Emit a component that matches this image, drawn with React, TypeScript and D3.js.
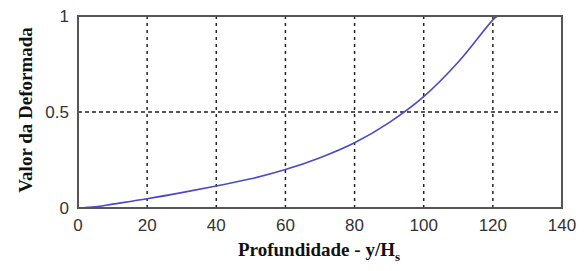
import React, { useEffect, useRef } from "react";
import * as d3 from "d3";

// depth (y/Hs) and normalised deflection
const depth = [0, 5, 10, 20, 30, 40, 50, 60, 70, 80, 90, 100, 110, 120, 121.3];
const deform = [0, 0.006, 0.02, 0.048, 0.08, 0.115, 0.152, 0.2, 0.262, 0.34, 0.445, 0.58, 0.76, 0.98, 1.0];

const xTicks = [0, 20, 40, 60, 80, 100, 120, 140];
const yTicks = [0, 0.5, 1];

const DeformChart = () => {
  const svgRef = useRef<SVGSVGElement | null>(null);

  useEffect(() => {
    const svg = d3.select(svgRef.current);
    svg.selectAll("*").remove();

    const margin = { top: 16, right: 26, bottom: 63, left: 78 };
    const width = 588 - margin.left - margin.right;
    const height = 271 - margin.top - margin.bottom;

    const x = d3.scaleLinear().domain([0, 140]).range([0, width]);
    const y = d3.scaleLinear().domain([0, 1]).range([height, 0]);

    const g = svg
      .append("g")
      .attr("transform", `translate(${margin.left},${margin.top})`);

    // dotted grid
    g.selectAll(".vgrid")
      .data(xTicks.slice(1, -1))
      .enter()
      .append("line")
      .attr("x1", (d) => x(d))
      .attr("x2", (d) => x(d))
      .attr("y1", 0)
      .attr("y2", height)
      .attr("stroke", "#222")
      .attr("stroke-width", 1.5)
      .attr("stroke-dasharray", "3,4");

    g.selectAll(".hgrid")
      .data(yTicks.slice(1, -1))
      .enter()
      .append("line")
      .attr("x1", 0)
      .attr("x2", width)
      .attr("y1", (d) => y(d))
      .attr("y2", (d) => y(d))
      .attr("stroke", "#222")
      .attr("stroke-width", 1.5)
      .attr("stroke-dasharray", "4,3");

    // curve
    const pts = depth.map((d, i) => [d, deform[i]] as [number, number]);
    const line = d3
      .line<[number, number]>()
      .x((d) => x(d[0]))
      .y((d) => y(d[1]))
      .curve(d3.curveCatmullRom.alpha(0.5));

    g.append("path")
      .datum(pts)
      .attr("d", line)
      .attr("fill", "none")
      .attr("stroke", "#4a4ac8")
      .attr("stroke-width", 1.6);

    // frame
    g.append("rect")
      .attr("x", 0)
      .attr("y", 0)
      .attr("width", width)
      .attr("height", height)
      .attr("fill", "none")
      .attr("stroke", "#555")
      .attr("stroke-width", 2);

    // tick labels
    g.selectAll(".xlab")
      .data(xTicks)
      .enter()
      .append("text")
      .attr("x", (d) => x(d))
      .attr("y", height + 23)
      .attr("text-anchor", "middle")
      .attr("font-family", "'Liberation Sans', Arial, sans-serif")
      .attr("font-size", 17)
      .attr("fill", "#333")
      .text((d) => d);

    g.selectAll(".ylab")
      .data(yTicks)
      .enter()
      .append("text")
      .attr("x", -9)
      .attr("y", (d) => y(d))
      .attr("dy", "0.36em")
      .attr("text-anchor", "end")
      .attr("font-family", "'Liberation Sans', Arial, sans-serif")
      .attr("font-size", 17)
      .attr("fill", "#333")
      .text((d) => d);

    // axis titles
    const xt = svg
      .append("text")
      .attr("x", 319)
      .attr("y", 256)
      .attr("text-anchor", "middle")
      .attr("font-family", "'Liberation Serif', 'Times New Roman', serif")
      .attr("font-weight", "bold")
      .attr("font-size", 19)
      .attr("fill", "#111");
    xt.append("tspan").text("Profundidade - y/H");
    xt.append("tspan").attr("font-size", 13).attr("dy", 5).text("s");

    svg
      .append("text")
      .attr("transform", `translate(32,110) rotate(-90)`)
      .attr("text-anchor", "middle")
      .attr("font-family", "'Liberation Serif', 'Times New Roman', serif")
      .attr("font-weight", "bold")
      .attr("font-size", 19)
      .attr("fill", "#111")
      .text("Valor da Deformada");
  }, []);

  return <svg ref={svgRef} width={588} height={271} style={{ display: "block" }}></svg>;
};

const App = () => {
  return (
    <div style={{ position: "absolute", left: 0, top: 0, background: "#fff" }}>
      <DeformChart />
    </div>
  );
};

export default App;
